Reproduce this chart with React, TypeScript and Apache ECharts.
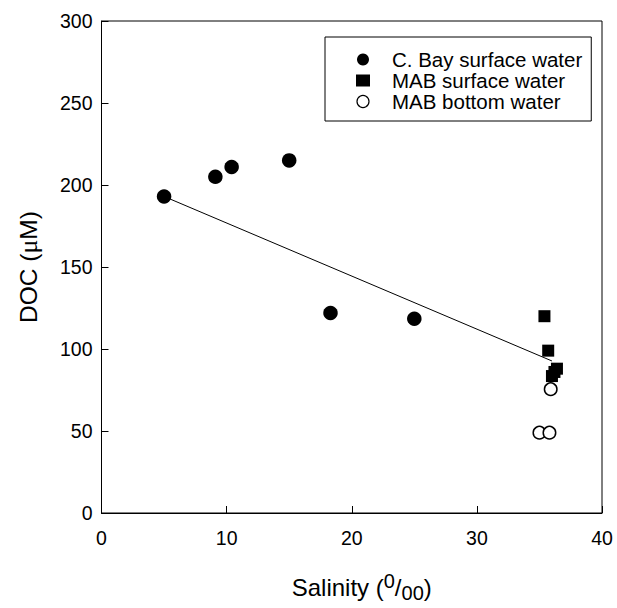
import React, { useEffect, useRef } from "react";
import * as echarts from "echarts";

const cbaySurface: [number, number][] = [
  [5.0, 193],
  [9.1, 205],
  [10.4, 211],
  [15.0, 215],
  [18.3, 122],
  [25.0, 118.5],
];
const mabSurface: [number, number][] = [
  [35.4, 120],
  [35.7, 99],
  [36.4, 88],
  [36.2, 86],
  [36.0, 83.5],
];
const mabBottom: [number, number][] = [
  [35.9, 75.5],
  [35.0, 49],
  [35.8, 49],
];
const trendLine: [number, number][] = [
  [5.0, 193],
  [36.0, 92.7],
];
const seriesNames = ["C. Bay surface water", "MAB surface water", "MAB bottom water"];
const xTicks = [0, 10, 20, 30, 40];
const yTicks = [0, 50, 100, 150, 200, 250, 300];

const FONT = "Liberation Sans, Arial, sans-serif";

export default function App() {
  const ref = useRef<HTMLDivElement>(null);
  useEffect(() => {
    if (!ref.current) return;
    const chart = echarts.init(ref.current, null, { renderer: "svg" });
    chart.setOption({
      animation: false,
      backgroundColor: "#fff",
      grid: {
        left: 101.5,
        right: 15,
        top: 21,
        bottom: 83.5,
        show: true,
        borderColor: "#000",
        borderWidth: 1,
      },
      legend: {
        orient: "vertical",
        left: 325,
        top: 37,
        padding: [12, 9, 9, 31],
        borderColor: "#000",
        borderWidth: 1,
        itemGap: 0,
        itemWidth: 14,
        itemHeight: 12,
        textStyle: {
          fontFamily: FONT,
          fontSize: 20.5,
          lineHeight: 21,
          color: "#000",
          padding: [0, 0, 0, 17],
        },
        data: [
          { name: seriesNames[0], icon: "circle", itemStyle: { color: "#000", opacity: 1 } },
          { name: seriesNames[1], icon: "rect", itemStyle: { color: "#000", opacity: 1 } },
          {
            name: seriesNames[2],
            icon: "circle",
            itemStyle: { color: "#fff", borderColor: "#000", borderWidth: 1.2, opacity: 1 },
          },
        ],
      },
      xAxis: {
        type: "value",
        min: xTicks[0],
        max: xTicks[xTicks.length - 1],
        interval: 10,
        axisLine: { show: true, lineStyle: { color: "#000" } },
        axisTick: { show: true, inside: true, length: 7, lineStyle: { color: "#000" } },
        splitLine: { show: false },
        axisLabel: { fontFamily: FONT, fontSize: 19.5, color: "#000", margin: 15 },
        name: "{a|Salinity (}{sup|0}{a|/}{sub|00}{a|)}",
        nameLocation: "middle",
        nameGap: 58,
        nameTextStyle: {
          padding: [0, 0, 0, 20],
          rich: {
            a: { fontFamily: FONT, fontSize: 24, color: "#000", lineHeight: 32, verticalAlign: "middle" },
            sup: { fontFamily: FONT, fontSize: 20, color: "#000", verticalAlign: "top", padding: [0, 0, 7, 0] },
            sub: { fontFamily: FONT, fontSize: 20, color: "#000", verticalAlign: "bottom", padding: [7, 0, 0, 0] },
          },
        },
      },
      yAxis: {
        type: "value",
        min: yTicks[0],
        max: yTicks[yTicks.length - 1],
        interval: 50,
        axisLine: { show: true, lineStyle: { color: "#000" } },
        axisTick: { show: true, inside: true, length: 7, lineStyle: { color: "#000" } },
        splitLine: { show: false },
        axisLabel: { fontFamily: FONT, fontSize: 19.5, color: "#000", margin: 9 },
        name: "{a|DOC (}{m|μ}{a|M)}",
        nameLocation: "middle",
        nameGap: 60,
        nameRotate: 90,
        nameTextStyle: {
          rich: {
            a: { fontFamily: FONT, fontSize: 24.5, color: "#000" },
            m: { fontFamily: "Liberation Serif, Times New Roman, serif", fontSize: 26, color: "#000" },
          },
        },
      },
      series: [
        {
          name: "trend",
          type: "line",
          data: trendLine,
          symbol: "none",
          lineStyle: { color: "#000", width: 1 },
          z: 1,
        },
        {
          name: seriesNames[0],
          type: "scatter",
          data: cbaySurface,
          symbol: "circle",
          symbolSize: 14.5,
          itemStyle: { color: "#000", opacity: 1 },
          z: 3,
        },
        {
          name: seriesNames[1],
          type: "scatter",
          data: mabSurface,
          symbol: "rect",
          symbolSize: 12,
          itemStyle: { color: "#000", opacity: 1 },
          z: 3,
        },
        {
          name: seriesNames[2],
          type: "scatter",
          data: mabBottom,
          symbol: "circle",
          symbolSize: 12.5,
          itemStyle: { color: "#fff", borderColor: "#000", borderWidth: 1.5, opacity: 1 },
          z: 3,
        },
      ],
    });
    return () => chart.dispose();
  }, []);
  return <div ref={ref} style={{ width: 617, height: 608, position: "absolute", left: 0, top: 0 }} />;
}
